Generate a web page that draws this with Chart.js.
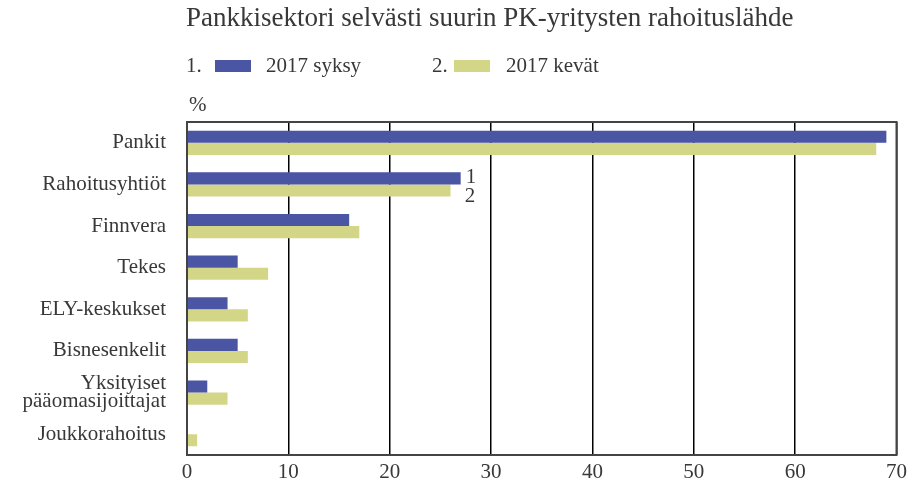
<!DOCTYPE html>
<html>
<head>
<meta charset="utf-8">
<script src="https://cdn.jsdelivr.net/npm/chart.js@4"></script>
<style>
  html, body { margin: 0; padding: 0; background: #fff; }
  #wrap { width: 912px; height: 490px; position: relative; }
</style>
</head>
<body>
<div id="wrap"><canvas id="RahoitusChart"></canvas></div>
<script>
const categories = ['Pankit', 'Rahoitusyhtiöt', 'Finnvera', 'Tekes', 'ELY-keskukset', 'Bisnesenkelit', ['Yksityiset', 'pääomasijoittajat'], 'Joukkorahoitus'];
const syksy2017 = [69, 27, 16, 5, 4, 5, 2, 0];
const kevat2017 = [68, 26, 17, 8, 6, 6, 4, 1];
const xTicks = [0, 10, 20, 30, 40, 50, 60, 70];

const serif = '"Liberation Serif", "DejaVu Serif", serif';
const textColor = '#383838';

// legend item positions: number, colour box, label
const legendPos = [
  { num: 186, box: 215, text: 266 },
  { num: 432, box: 454, text: 506 }
];

// title, numbered legend, % unit and the 1/2 markers
const extras = {
  id: 'extras',
  afterDraw(chart) {
    const ctx = chart.ctx;
    const area = chart.chartArea;
    ctx.save();
    ctx.fillStyle = textColor;
    ctx.textBaseline = 'alphabetic';
    ctx.font = '27px ' + serif;
    ctx.fillText('Pankkisektori selvästi suurin PK-yritysten rahoituslähde', 186, 26);

    ctx.font = '21px ' + serif;
    chart.data.datasets.forEach((ds, i) => {
      const p = legendPos[i];
      ctx.fillStyle = textColor;
      ctx.fillText((i + 1) + '.', p.num, 72);
      ctx.fillStyle = ds.backgroundColor;
      ctx.fillRect(p.box, 60, 36, 12);
      ctx.fillStyle = textColor;
      ctx.fillText(ds.label, p.text, 72);
    });
    ctx.fillText('%', 189, 111);

    // markers after the second category bars
    ctx.textBaseline = 'middle';
    const first = chart.getDatasetMeta(0).data[1];
    const second = chart.getDatasetMeta(1).data[1];
    ctx.fillText('1', first.x + 5, first.y - 1);
    ctx.fillText('2', first.x + 4, second.y + 6);

    // frame
    ctx.strokeStyle = '#444';
    ctx.lineWidth = 2;
    ctx.strokeRect(area.left, area.top, area.right - area.left, area.bottom - area.top);
    ctx.restore();
  }
};

const ctx = document.getElementById('RahoitusChart').getContext('2d');
new Chart(ctx, {
  type: 'bar',
  data: {
    labels: categories,
    datasets: [
      { label: '2017 syksy', data: syksy2017, backgroundColor: '#4a55a3' },
      { label: '2017 kevät', data: kevat2017, backgroundColor: '#d4d687' }
    ]
  },
  options: {
    indexAxis: 'y',
    responsive: true,
    maintainAspectRatio: false,
    animation: false,
    layout: { padding: { top: 122, right: 11, left: 0, bottom: 0 } },
    categoryPercentage: 0.58,
    barPercentage: 1,
    plugins: {
      legend: { display: false },
      tooltip: { enabled: false }
    },
    scales: {
      x: {
        min: 0,
        max: 70,
        afterBuildTicks: scale => { scale.ticks = xTicks.map(v => ({ value: v })); },
        afterFit: scale => { scale.height = 35; },
        grid: { color: '#000', lineWidth: 1.5, drawTicks: false },
        border: { display: false },
        ticks: { color: textColor, font: { family: serif, size: 21 }, padding: 5 }
      },
      y: {
        afterFit: scale => { scale.width = 187; },
        grid: { display: false, drawTicks: false },
        border: { display: false },
        ticks: { color: textColor, font: { family: serif, size: 21, lineHeight: 0.86 }, padding: 21 }
      }
    }
  },
  plugins: [extras]
});
</script>
</body>
</html>
